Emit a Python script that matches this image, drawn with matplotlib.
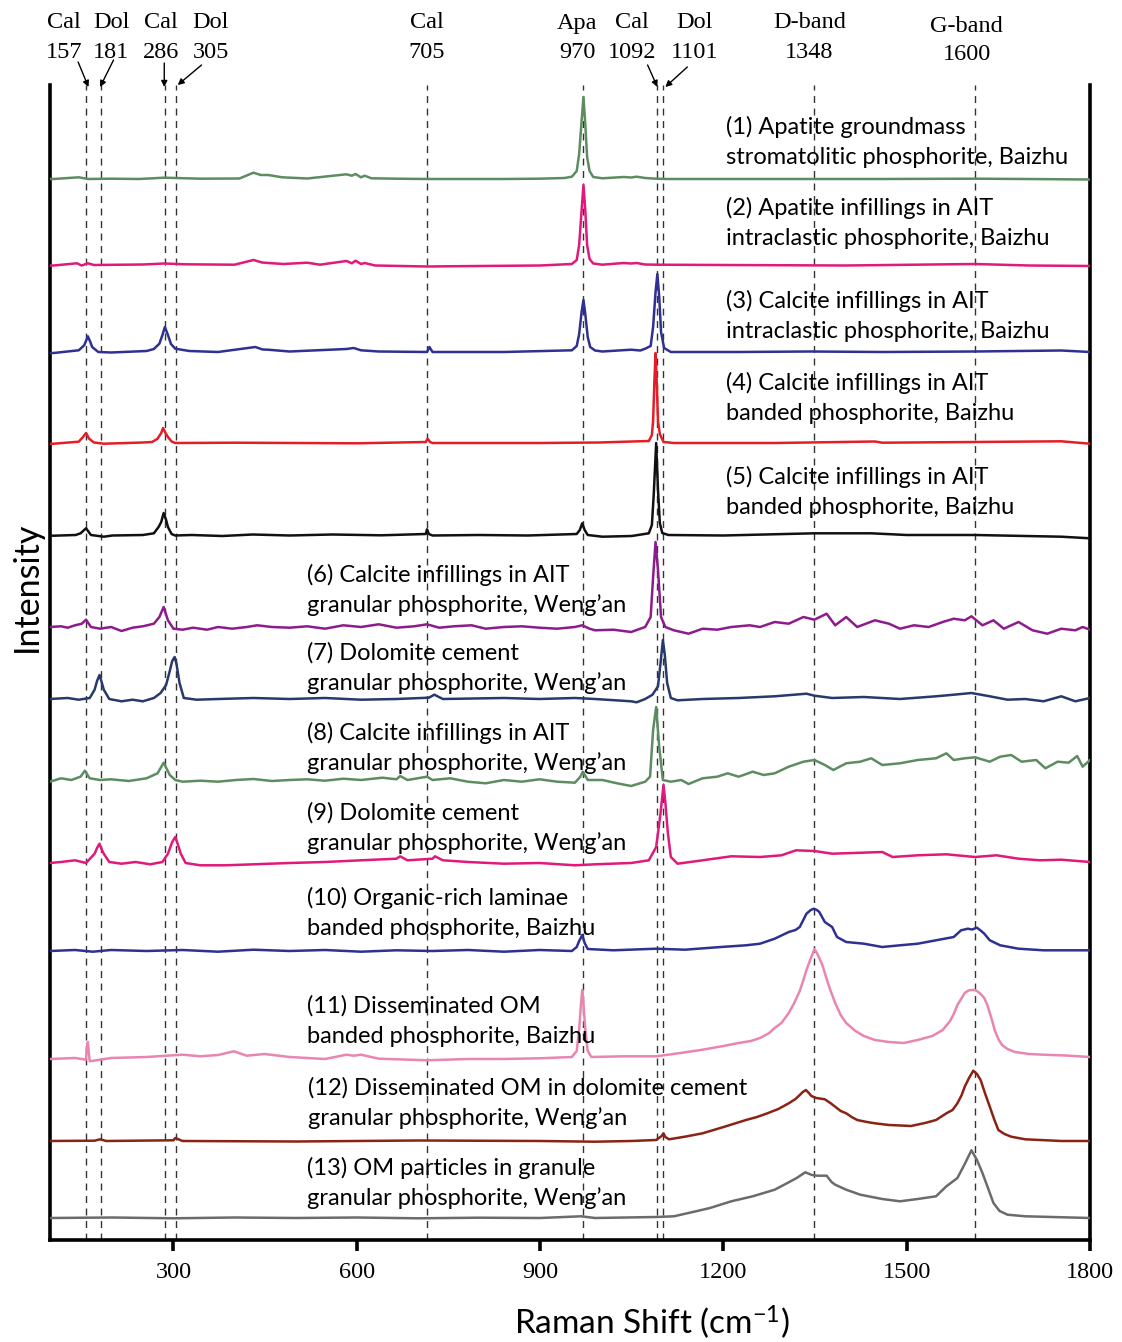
import matplotlib
matplotlib.use('Agg')
import matplotlib.pyplot as plt

# ---------------- data (Raman shift cm-1, relative intensity) ----------------
s1_x = [98, 104, 145, 160, 198, 244, 285, 344, 408, 431, 443, 455, 478, 519, 583, 592, 598, 607, 613, 624, 665, 715, 782, 841, 899, 940, 952, 960, 964, 968, 971, 974, 977, 981, 987, 1002, 1037, 1049, 1058, 1072, 1090, 1108, 1225, 1342, 1460, 1612, 1694, 1800]
s1_y = [0, 0, 1.7, 0, 0.3, 0, 1.3, 0.3, 0.5, 6.3, 4, 4, 1.7, 0.5, 4.7, 3.3, 5, 1.7, 3.3, 0.7, 0.3, 0, 0, 0, 0.3, 1, 2.3, 8, 25, 58, 82, 55, 22, 8, 2, 0.7, 2, 1.5, 2.3, 1, 0.3, 0, 0, 0, 0, 0.3, 0, -0.5]

s2_x = [98, 104, 142, 150, 160, 170, 250, 285, 320, 400, 431, 445, 455, 480, 519, 540, 583, 592, 598, 607, 613, 630, 715, 800, 900, 952, 960, 964, 968, 971, 974, 977, 981, 987, 1002, 1037, 1049, 1058, 1072, 1090, 1200, 1400, 1612, 1700, 1800]
s2_y = [-0.5, -0.5, 1.7, -0.5, 1.7, 0, 0.5, 1.5, 0.7, 0.3, 5, 2.5, 2, 1, 2.3, 0.3, 4, 1.7, 4.3, 1, 2, -0.5, -1.5, -1, -0.5, 1, 5, 20, 55, 80, 55, 20, 6, 1.5, 0.3, 2, 1.5, 2, 0.5, 0.3, 0, -0.5, 1, -0.5, -1]

s3_x = [98, 104, 145, 154, 160, 164, 167, 177, 198, 256, 268, 277, 282, 286, 291, 296, 303, 326, 373, 434, 446, 455, 490, 583, 595, 607, 636, 715, 719, 724, 841, 952, 960, 964, 968, 971, 974, 978, 982, 990, 1002, 1049, 1064, 1072, 1081, 1085, 1089, 1092, 1095, 1098, 1103, 1114, 1225, 1342, 1460, 1612, 1753, 1800]
s3_y = [-1, -1, 1.7, 6.7, 15.7, 10, 5, 0, -0.5, 1, 3, 8.3, 17, 25, 17, 8, 3.3, 1, 0, 5, 2.5, 2.3, 0.5, 3, 4, 1.7, 0.5, 0, 5, 0, 0, 1.7, 6, 18, 40, 52, 38, 15, 5, 1.5, 0.5, 2.3, 1.5, 3.3, 6, 25, 60, 78, 55, 20, 4, 0, 0, 0.5, 0, 0.5, 1.5, 0]

s4_x = [98, 104, 145, 152, 157, 162, 170, 186, 250, 265, 274, 280, 283, 287, 291, 297, 303, 400, 600, 713, 716, 720, 724, 900, 997, 1078, 1083, 1085, 1087, 1089, 1091, 1093, 1096, 1102, 1119, 1284, 1448, 1460, 1612, 1753, 1800]
s4_y = [-0.7, -0.7, 1.3, 6, 10, 4.3, 0.5, -0.7, 0.5, 1, 4.3, 10, 15, 10, 6, 1.5, 0, 0.3, -0.3, 1, 4.3, 1, 0, 0, 0.5, 2, 8, 22, 60, 90, 60, 22, 9, 1, 0, 0, 1.5, 0.3, 1, 1.7, -0.7]

s5_x = [98, 104, 140, 148, 157, 165, 186, 200, 250, 268, 276, 280, 284, 288, 291, 297, 303, 330, 380, 430, 490, 560, 640, 713, 715, 718, 724, 800, 880, 960, 965, 969, 973, 978, 1002, 1050, 1078, 1083, 1086, 1090, 1093, 1096, 1100, 1110, 1200, 1349, 1442, 1500, 1612, 1753, 1800]
s5_y = [-0.7, -0.7, 0, 1.7, 6.7, 0, -1.7, -0.5, 0, 1.7, 8.3, 13, 22, 15, 8, 1, -0.5, 0, -1, 0.5, -0.5, 0.5, -0.3, 1, 5.7, 1, -0.5, 0, -0.5, 1, 5, 11.7, 5, 0, -1.7, -1, 1.7, 10, 40, 92, 45, 12, 2, 0, -0.5, 1.7, 1.7, 0, 0, -1.7, -3.3]

s6_x = [98, 116, 127, 139, 150, 157, 165, 180, 198, 215, 233, 250, 268, 277, 284, 291, 300, 315, 332, 355, 373, 396, 420, 437, 461, 490, 519, 548, 578, 607, 636, 665, 694, 715, 735, 759, 788, 811, 841, 870, 899, 928, 957, 969, 981, 990, 1020, 1049, 1072, 1081, 1085, 1089, 1093, 1098, 1105, 1119, 1143, 1166, 1190, 1213, 1243, 1260, 1284, 1307, 1331, 1349, 1369, 1383, 1401, 1419, 1448, 1471, 1489, 1512, 1536, 1559, 1577, 1595, 1606, 1624, 1642, 1659, 1683, 1706, 1730, 1753, 1776, 1788, 1800]
s6_y = [0, 0.7, -0.7, 1.7, 3.3, 7.3, 0, -1.7, 0, -4, -0.7, 0.7, 3.3, 10, 20, 6.7, -1.7, -2.7, -0.7, -2.7, 0, -1.7, 0, 1.7, 0, -0.7, 0.7, -1.7, 1.7, 0, 2.7, -0.7, 0.7, 2.7, -0.7, 0.7, 1.7, -1.7, 0, 0.7, -0.7, -1.7, 0, 1.7, -1.7, -3.3, -2.7, -5, 0, 10, 50, 85, 57, 10, 0, -3.3, -6.7, -1.7, -2.7, 0, 1.7, 0, 5, 3.3, 10, 7.3, 13.3, 1.7, 10, 0, 6.7, 3.3, -1.7, 1.7, 0, 5, 8.3, 6.7, 10.7, 1.7, 6.7, -1.7, 5, -3.3, -6.7, -1.7, -3.3, 0, -2.7]

s7_x = [98, 127, 145, 163, 171, 175, 179, 182, 186, 195, 215, 233, 250, 268, 279, 288, 294, 298, 302, 305, 310, 317, 338, 373, 431, 490, 548, 607, 665, 718, 727, 741, 841, 899, 957, 990, 1049, 1058, 1072, 1084, 1093, 1097, 1101, 1104, 1108, 1114, 1125, 1166, 1225, 1284, 1336, 1349, 1378, 1430, 1489, 1548, 1577, 1606, 1636, 1665, 1694, 1724, 1753, 1776, 1800]
s7_y = [0, 1, -0.7, 1, 9.3, 18, 24, 18, 9.3, 0, -2.3, -0.7, -2.3, 1, 6, 14, 28, 38, 42, 35, 16, 1, -0.7, 0, 1, 0, 1, -0.7, 0, 1.3, 4.3, 0, 1, 0, 1, 0, -2.3, -3.3, 0, 4.3, 12.7, 35, 59, 45, 16, 1, -1.3, 0, 1, 2.7, 5.3, 3.3, 1, 2, 0, 2.7, 4.3, 6, 2.7, -0.7, 0, -2.3, 2.7, -2.3, 1]

s8_x = [98, 116, 133, 148, 155, 163, 180, 198, 227, 256, 274, 284, 294, 303, 315, 344, 373, 402, 431, 461, 490, 519, 548, 578, 607, 642, 665, 671, 683, 715, 724, 753, 782, 811, 841, 870, 899, 928, 957, 966, 970, 978, 1002, 1026, 1049, 1072, 1080, 1085, 1090, 1095, 1101, 1114, 1131, 1143, 1166, 1190, 1207, 1225, 1248, 1266, 1284, 1307, 1331, 1349, 1366, 1380, 1401, 1424, 1442, 1460, 1489, 1518, 1548, 1565, 1577, 1595, 1612, 1636, 1653, 1671, 1688, 1712, 1727, 1747, 1765, 1779, 1788, 1800]
s8_y = [-1.7, 1.7, 0, 3.3, 9.3, 1.7, 0, 0.7, -1, 1.7, 6.7, 17.3, 5, 0, -1.7, -0.7, -1.7, 0, 1, -1, 0, 0.7, -0.7, 1.3, 0, 2.3, 0.7, 4, 0, 3.3, 0, 1.7, -1.7, -3.3, 0, -1.7, 0.7, -1.7, -2.7, 3.3, 8.3, 0, 0, -3.3, -6, -1.7, 3.3, 50, 73, 33, 0, -1.7, 0, -4, 1.7, 3.3, 6.7, 3.3, 8.3, 5, 6.7, 13.3, 18.3, 20, 15, 10, 16.7, 18.3, 21.7, 15, 16.7, 20, 21.7, 26.7, 20, 21.7, 22.7, 18.3, 23.3, 25, 18.3, 20, 11.7, 18.3, 17.3, 24, 13.3, 20]

s9_x = [98, 116, 139, 157, 171, 175, 179, 183, 186, 195, 215, 238, 262, 282, 291, 298, 303, 307, 312, 320, 344, 385, 431, 490, 548, 607, 665, 671, 683, 724, 728, 741, 782, 841, 899, 957, 990, 1049, 1078, 1090, 1097, 1102, 1105, 1109, 1114, 1125, 1166, 1213, 1260, 1295, 1319, 1349, 1378, 1413, 1460, 1477, 1518, 1565, 1612, 1647, 1683, 1718, 1753, 1800]
s9_y = [-1, 0, 1.7, -1, 8.3, 14, 18.3, 12, 8.3, 0, -1.7, 0, -2.3, 0, 8.3, 20, 25, 18, 8.3, -1, -3.3, -3.3, -2.3, -1, 0, 1.7, 3.3, 5.7, 1.7, 3.3, 5.7, 1.7, 0, -1.7, -1, -3.3, -2.3, -1, 1.7, 15, 48, 77, 60, 30, 5, -1.7, 1.7, 5.7, 5, 6.7, 11.7, 11, 8.3, 9, 10, 5, 6.7, 7.7, 5, 6.7, 3.3, 1.7, 2.3, 0]

s10_x = [98, 139, 168, 198, 256, 315, 373, 431, 490, 548, 607, 665, 724, 782, 841, 899, 952, 960, 964, 969, 973, 978, 1020, 1090, 1137, 1196, 1237, 1260, 1284, 1307, 1318, 1325, 1336, 1343, 1348, 1353, 1357, 1366, 1378, 1386, 1401, 1430, 1460, 1489, 1518, 1548, 1577, 1589, 1600, 1607, 1615, 1622, 1627, 1636, 1653, 1683, 1724, 1800]
s10_y = [0, 1, -0.7, 1, 0, 1, -0.7, 1.3, 0, 1, -0.7, 0.7, 0, 1, -0.7, 1, 0, 4, 10, 16, 8, 2, 0.7, 2.3, 1.3, 4, 5.7, 7.3, 12.3, 19, 21, 24, 37.3, 41, 42.3, 41, 39, 29, 24, 14, 9, 7.3, 4, 5.7, 7.3, 10.7, 14, 20.7, 22.3, 21.5, 23.3, 20, 17.3, 10.7, 5.7, 2.3, 0.7, 0.7]

s11_x = [98, 139, 157, 158, 160, 161, 163, 198, 256, 315, 344, 373, 399, 420, 449, 490, 548, 583, 595, 607, 636, 715, 782, 841, 899, 952, 960, 964, 967, 969, 971, 974, 978, 984, 1037, 1090, 1130, 1166, 1200, 1225, 1245, 1260, 1275, 1284, 1295, 1307, 1316, 1325, 1331, 1336, 1342, 1346, 1349, 1353, 1357, 1362, 1366, 1370, 1375, 1383, 1392, 1401, 1416, 1430, 1448, 1471, 1495, 1518, 1542, 1559, 1571, 1577, 1583, 1589, 1595, 1601, 1606, 1611, 1615, 1621, 1627, 1632, 1636, 1640, 1644, 1650, 1656, 1665, 1677, 1700, 1724, 1760, 1800]
s11_y = [0, 1, -0.7, 10, 17, 10, -2.3, 1, 2, 4.3, 2.7, 4, 7.7, 3.3, 5, 2, 0, 4.3, 3.3, 4.3, 0.3, -1.3, 0, 0, 0.7, 2, 8, 30, 55, 69, 55, 30, 8, 2, 2.7, 2.7, 6, 9.3, 13, 16, 18, 21, 26, 31, 36, 46, 56, 68, 79, 89, 99, 105, 110, 106, 101, 94, 86, 78, 69, 56, 44, 36, 28, 23, 19, 17, 16, 19, 23, 29, 38, 45, 54, 60, 66, 68.5, 69, 69, 68, 65, 61, 54, 46, 38, 29, 20, 14, 10, 7, 5, 4.3, 3.5, 2]

s12_x = [98, 171, 180, 190, 300, 303, 315, 500, 700, 900, 990, 1049, 1090, 1099, 1102, 1105, 1111, 1137, 1166, 1202, 1237, 1255, 1272, 1290, 1307, 1318, 1325, 1330, 1335, 1340, 1344, 1352, 1366, 1375, 1383, 1392, 1401, 1410, 1419, 1435, 1448, 1471, 1490, 1507, 1530, 1548, 1565, 1575, 1583, 1590, 1595, 1602, 1609, 1615, 1621, 1628, 1636, 1643, 1650, 1660, 1671, 1694, 1753, 1800]
s12_y = [0, 0.3, 1.7, 0, 0.7, 3, 0, -0.5, 0.5, 0, -0.7, 0, 1, 5, 7.7, 4, 1.7, 4.3, 7.7, 14.3, 21, 24, 27.7, 32, 37.7, 42, 46, 49, 51, 48, 45, 43, 41.7, 38, 34.3, 30, 27.7, 24, 21, 19, 17.7, 16, 15.5, 15, 18, 21, 27.7, 31, 37.7, 46, 54.3, 63, 70.3, 67, 61, 48, 34.3, 22, 11, 7, 4.3, 1.7, 0, 0]

s13_x = [98, 200, 300, 400, 500, 600, 700, 800, 900, 967, 990, 1090, 1119, 1155, 1178, 1213, 1248, 1284, 1307, 1320, 1334, 1345, 1354, 1369, 1377, 1383, 1401, 1424, 1460, 1489, 1518, 1548, 1565, 1583, 1595, 1606, 1615, 1624, 1633, 1642, 1652, 1665, 1694, 1800]
s13_y = [0, 0.5, -0.3, 0.5, 0, 0.5, -0.3, 0.3, 0, 1.7, 0, 1, 1.7, 6.7, 10, 16.7, 21.7, 28.3, 35.7, 40, 45.7, 43, 42.3, 42.3, 36, 33.3, 28.3, 23.3, 19, 16.7, 19, 21.7, 31.7, 40, 54, 67.7, 58, 45, 30, 15, 7, 3.3, 1.7, 0]

spectra_x = [s1_x, s2_x, s3_x, s4_x, s5_x, s6_x, s7_x, s8_x, s9_x, s10_x, s11_x, s12_x, s13_x]
spectra_y = [s1_y, s2_y, s3_y, s4_y, s5_y, s6_y, s7_y, s8_y, s9_y, s10_y, s11_y, s12_y, s13_y]
offsets = [1061, 975, 888, 797, 705, 613, 541, 460, 378, 289, 181, 99, 22]

labels = [
    ("(1) Apatite groundmass", "stromatolitic phosphorite, Baizhu"),
    ("(2) Apatite infillings in AIT", "intraclastic phosphorite, Baizhu"),
    ("(3) Calcite infillings in AIT", "intraclastic phosphorite, Baizhu"),
    ("(4) Calcite infillings in AIT", "banded phosphorite, Baizhu"),
    ("(5) Calcite infillings in AIT", "banded phosphorite, Baizhu"),
    ("(6) Calcite infillings in AIT", "granular phosphorite, Weng\u2019an"),
    ("(7) Dolomite cement", "granular phosphorite, Weng\u2019an"),
    ("(8) Calcite infillings in AIT", "granular phosphorite, Weng\u2019an"),
    ("(9) Dolomite cement", "granular phosphorite, Weng\u2019an"),
    ("(10) Organic-rich laminae", "banded phosphorite, Baizhu"),
    ("(11) Disseminated OM", "banded phosphorite, Baizhu"),
    ("(12) Disseminated OM in dolomite cement", "granular phosphorite, Weng\u2019an"),
    ("(13) OM particles in granule", "granular phosphorite, Weng\u2019an"),
]

peak_names = ["Cal", "Dol", "Cal", "Dol", "Cal", "Apa", "Cal", "Dol", "D-band", "G-band"]
peak_values = ["157", "181", "286", "305", "705", "970", "1092", "1101", "1348", "1600"]
line_positions = [157, 181, 286, 305, 715, 970, 1092, 1101, 1348, 1612]

x_ticks = [300, 600, 900, 1200, 1500, 1800]

# ---------------- style / layout ----------------
colors = ['#5E8C61', '#E0197B', '#2E3192', '#E41E26', '#111111', '#8E1B8D',
          '#283A6B', '#5E8C61', '#E0197B', '#2E3192', '#E985B0', '#8B2315', '#6B6B6B']
label_xy = [(1205, 1113), (1205, 1032), (1205, 939), (1205, 857), (1205, 763),
            (518, 665), (518, 587), (518, 507), (518, 427), (518, 342),
            (518, 234), (521, 152), (518, 72)]
header_x = [121, 198, 279, 361, 714, 961, 1050, 1153, 1341, 1598]
arrows = [((144, 1178), (161, 1153)), ((202, 1180), (180, 1153)),
          ((285, 1177), (285, 1153)), ((346, 1175), (307, 1155)),
          ((1076, 1175), (1092, 1153)), ((1141, 1173), (1105, 1153))]

plt.rcParams['mathtext.fontset'] = 'custom'
plt.rcParams['mathtext.rm'] = 'Lato'
plt.rcParams['mathtext.it'] = 'Lato:italic'

fig = plt.figure(figsize=(11.22, 13.42), dpi=100)
ax = fig.add_axes([50/1122, 1 - 1240/1342, 1040/1122, 1155/1342])
ax.set_xlim(98, 1800)
ax.set_ylim(0, 1155)

for xp in line_positions:
    ax.axvline(xp, color='#333333', lw=1.0, ls=(0, (5, 4)), zorder=1)

for xs, ys, off, c in zip(spectra_x, spectra_y, offsets, colors):
    ax.plot(xs, [v + off for v in ys], color=c, lw=1.8, zorder=3, solid_joinstyle='round')

text_font = 'Lato'
for (l1, l2), (lx, ly) in zip(labels, label_xy):
    ax.text(lx, ly, l1, fontsize=17, family=text_font, ha='left', va='center', zorder=4)
    ax.text(lx, ly - 30.5, l2, fontsize=17, family=text_font, ha='left', va='center', zorder=4)

for nm, val, hx in zip(peak_names, peak_values, header_x):
    dy = 3 if nm == 'G-band' else 0
    ax.text(hx, 1217 - dy, nm, fontsize=17.5, family='Liberation Serif', ha='center', va='center', clip_on=False)
    ax.text(hx, 1188 - dy, val, fontsize=17.5, family='Liberation Serif', ha='center', va='center', clip_on=False)

for (tail, head) in arrows:
    ax.annotate('', xy=head, xytext=tail, xycoords='data', textcoords='data',
                arrowprops=dict(arrowstyle='-|>', lw=1.0, color='black', mutation_scale=9,
                                shrinkA=0, shrinkB=0), annotation_clip=False)

for side in ['left', 'right', 'bottom']:
    ax.spines[side].set_linewidth(2.6)
ax.spines['top'].set_visible(False)
ax.set_yticks([])
ax.set_xticks(x_ticks)
ax.tick_params(axis='x', direction='out', length=8, width=2.6, pad=8, labelsize=17.5)
for t in ax.get_xticklabels():
    t.set_family('Liberation Serif')

fig.text(27/1122, 1 - 587/1342, 'Intensity', rotation=90, fontsize=24.5, family=text_font,
         ha='center', va='center')
fig.text(652/1122, 1 - 1322/1342, 'Raman Shift (cm$^{-1}$)', fontsize=24, family=text_font,
         ha='center', va='center')

fig.savefig('out.png', dpi=100)
